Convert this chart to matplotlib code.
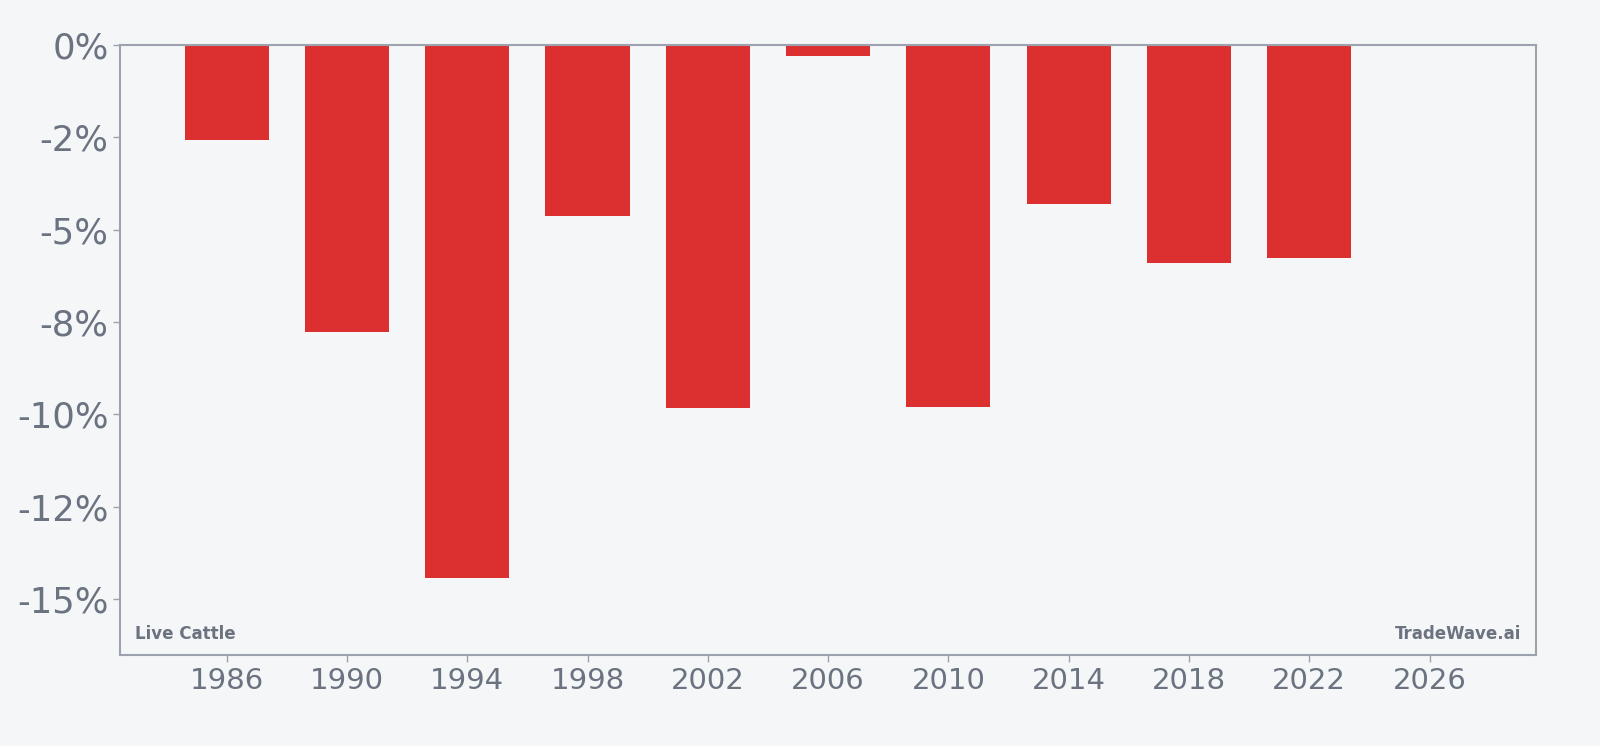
import matplotlib
matplotlib.use("Agg")
import matplotlib.pyplot as plt
from matplotlib.ticker import FuncFormatter

years = [1986, 1990, 1994, 1998, 2002, 2006, 2010, 2014, 2018, 2022]
returns = [-2.57, -7.76, -14.42, -4.63, -9.83, -0.30, -9.81, -4.31, -5.91, -5.77]
yticks = [0, -2.5, -5, -7.5, -10, -12.5, -15]
xticks = [1986, 1990, 1994, 1998, 2002, 2006, 2010, 2014, 2018, 2022, 2026]

bg = "#f4f6f8"
red = "#dc3030"
txt = "#6b7280"
spine = "#9ca3af"

fig = plt.figure(figsize=(16, 7.46), dpi=100, facecolor=bg)
ax = fig.add_axes([0.0753, 0.1218, 0.9598 - 0.0753, 0.9398 - 0.1218])
ax.set_facecolor(bg)
ax.bar(years, returns, width=2.8, color=red, zorder=2)
ax.set_xlim(1982.47, 2029.53)
ax.set_ylim(-16.52, 0)
ax.set_yticks(yticks)
ax.set_xticks(xticks)
ax.yaxis.set_major_formatter(FuncFormatter(lambda v, p: "%.0f%%" % v))
ax.tick_params(axis="both", colors=spine, labelcolor=txt, length=5, width=1)
ax.tick_params(axis="y", labelsize=25.5)
ax.tick_params(axis="x", labelsize=21)
for s in ax.spines.values():
    s.set_color(spine)
    s.set_linewidth(1.5)
ax.text(0.01, 0.02, "Live Cattle", transform=ax.transAxes, fontsize=12,
        fontweight="bold", color=txt, ha="left", va="bottom")
ax.text(0.99, 0.02, "TradeWave.ai", transform=ax.transAxes, fontsize=12,
        fontweight="bold", color=txt, ha="right", va="bottom")
fig.savefig("out.png", dpi=100, facecolor=bg)
